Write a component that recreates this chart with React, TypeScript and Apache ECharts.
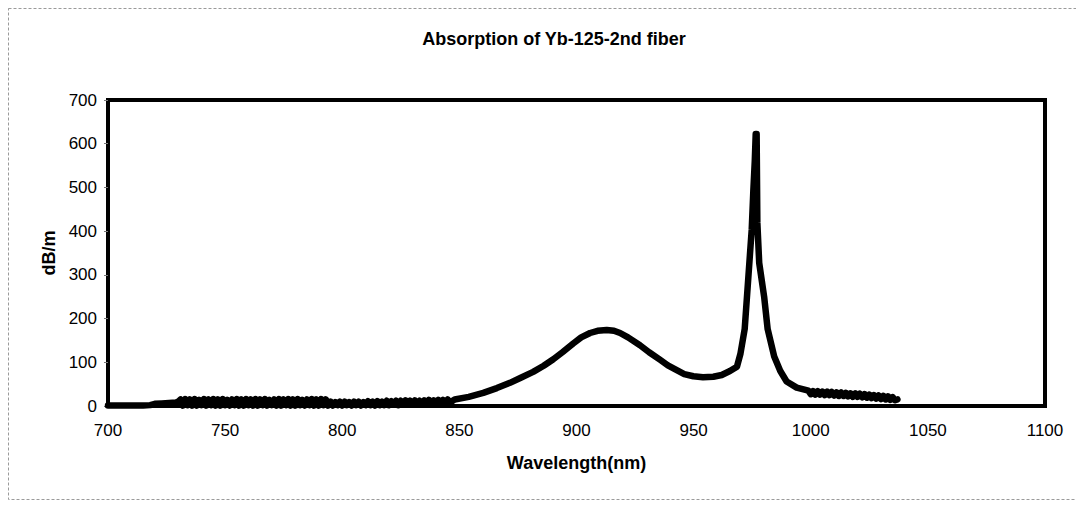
import React, { useEffect, useRef } from "react";
import * as echarts from "echarts";

const TITLE = "Absorption of Yb-125-2nd fiber";
const X_NAME = "Wavelength(nm)";
const Y_NAME = "dB/m";

// start of the trace (nm, dB/m)
const startWl: number[] = [700, 705, 710, 715, 718, 720, 723, 726, 729, 730];
const startVal: number[] = [1, 1, 1, 1, 2, 5, 6, 7, 8, 10];

// noisy low band, 731..794 nm, 1 nm apart
const band1Start = 731;
const band1Val: number[] = [
  15, 1, 16, 2, 15, 1, 16, 1,
  14, 2, 16, 1, 15, 2, 16, 1,
  15, 1, 16, 2, 14, 1, 15, 2,
  16, 1, 15, 1, 16, 2, 15, 1,
  16, 1, 15, 2, 16, 1, 14, 2,
  15, 1, 16, 1, 15, 2, 16, 1,
  15, 1, 16, 2, 14, 1, 15, 2,
  16, 1, 15, 1, 16, 2, 15, 1,
];

// noisy low band, 795..846 nm, 1 nm apart
const band2Start = 795;
const band2Val: number[] = [
  10, 1, 9, 2, 10, 1, 10, 2,
  9, 1, 10, 2, 10, 1, 9, 2,
  11, 2, 10, 1, 11, 2, 10, 2,
  12, 2, 11, 3, 12, 2, 12, 3,
  13, 3, 12, 3, 13, 4, 12, 4,
  13, 4, 14, 5, 13, 5, 14, 6,
  14, 7, 15, 8,
];

// broad band around 915 nm and the 976 nm peak
const mainWl: number[] = [
  848, 854, 860.2, 866, 871.6, 876, 881.5, 886, 890.1, 894, 898.6, 902, 905.8,
  909, 912.9, 916, 918.6, 922, 927.1, 931, 935.6, 939, 942.8, 946, 949.9, 954,
  958.4, 962, 965.5, 968.5, 970, 971.8, 973.3, 974.8, 975.5, 976.1, 976.5,
  976.9, 977.2, 978.0, 980.1, 981.6, 984.4, 987, 989.7, 994,
];
const mainVal: number[] = [
  15, 21, 30, 41, 53, 64, 78, 92, 107, 123, 143, 157, 167,
  172, 174, 172, 167, 157, 139, 123, 106, 93, 82, 73, 68, 66,
  67, 71, 80, 90, 120, 176, 290, 404, 494, 560, 622,
  622, 420, 327, 250, 176, 113, 80, 56, 42,
];

// noisy tail, 999..1037 nm, 1 nm apart
const tailStart = 999;
const tailVal: number[] = [
  35, 27, 34, 26, 34, 26, 33, 25, 33, 25, 32, 24, 31, 23, 31, 23, 30, 22, 29, 21,
  29, 21, 28, 20, 27, 19, 26, 18, 25, 17, 24, 16, 23, 15, 22, 14, 20, 13, 15,
];

const X_MIN = 700;
const X_MAX = 1100;
const X_STEP = 50;
const Y_MIN = 0;
const Y_MAX = 700;
const Y_STEP = 100;

const FONT = "'Liberation Sans', Arial, sans-serif";

function buildPoints(): number[][] {
  const pts: number[][] = [];
  startWl.forEach((w, i) => pts.push([w, startVal[i]]));
  band1Val.forEach((v, i) => pts.push([band1Start + i, v]));
  band2Val.forEach((v, i) => pts.push([band2Start + i, v]));
  mainWl.forEach((w, i) => pts.push([w, mainVal[i]]));
  tailVal.forEach((v, i) => pts.push([tailStart + i, v]));
  return pts;
}

export default function App() {
  const ref = useRef<HTMLDivElement>(null);

  useEffect(() => {
    if (!ref.current) return;
    const chart = echarts.init(ref.current, null, { renderer: "svg" });
    chart.setOption({
      animation: false,
      backgroundColor: "#ffffff",
      title: {
        text: TITLE,
        left: 549,
        top: 25,
        textAlign: "center",
        textStyle: {
          fontFamily: FONT,
          fontSize: 18,
          fontWeight: "bold",
          color: "#000",
        },
      },
      graphic: [
        {
          type: "rect",
          shape: { x: 8.5, y: 8.5, width: 1100, height: 491 },
          style: { fill: "none", stroke: "#9a9a9a", lineWidth: 1, lineDash: [3, 2] },
          silent: true,
          z: -1,
        },
      ],
      grid: {
        left: 108,
        right: 31,
        top: 100,
        bottom: 100,
        show: true,
        borderColor: "#000",
        borderWidth: 4,
        backgroundColor: "transparent",
      },
      xAxis: {
        type: "value",
        min: X_MIN,
        max: X_MAX,
        interval: X_STEP,
        name: X_NAME,
        nameLocation: "middle",
        nameGap: 48,
        nameTextStyle: {
          fontFamily: FONT,
          fontSize: 18,
          fontWeight: "bold",
          color: "#000",
        },
        axisLine: { show: false },
        axisTick: { show: false },
        splitLine: { show: false },
        axisLabel: {
          margin: 16,
          fontFamily: FONT,
          fontSize: 17,
          color: "#000",
          formatter: (v: number) => String(v),
        },
      },
      yAxis: {
        type: "value",
        min: Y_MIN,
        max: Y_MAX,
        interval: Y_STEP,
        name: Y_NAME,
        nameLocation: "middle",
        nameRotate: 90,
        nameGap: 48,
        nameTextStyle: {
          fontFamily: FONT,
          fontSize: 18,
          fontWeight: "bold",
          color: "#000",
        },
        axisLine: { show: false },
        axisTick: {
          show: true,
          length: 4,
          lineStyle: { color: "#777", width: 1 },
        },
        splitLine: { show: false },
        axisLabel: {
          margin: 11,
          fontFamily: FONT,
          fontSize: 17,
          color: "#000",
          formatter: (v: number) => String(v),
        },
      },
      series: [
        {
          type: "line",
          data: buildPoints(),
          showSymbol: false,
          symbol: "none",
          lineStyle: { color: "#000", width: 6.5, join: "round", cap: "round" },
          z: 3,
        },
      ],
    });
    return () => chart.dispose();
  }, []);

  return (
    <div
      ref={ref}
      style={{ position: "fixed", left: 0, top: 0, width: 1076, height: 506 }}
    />
  );
}
